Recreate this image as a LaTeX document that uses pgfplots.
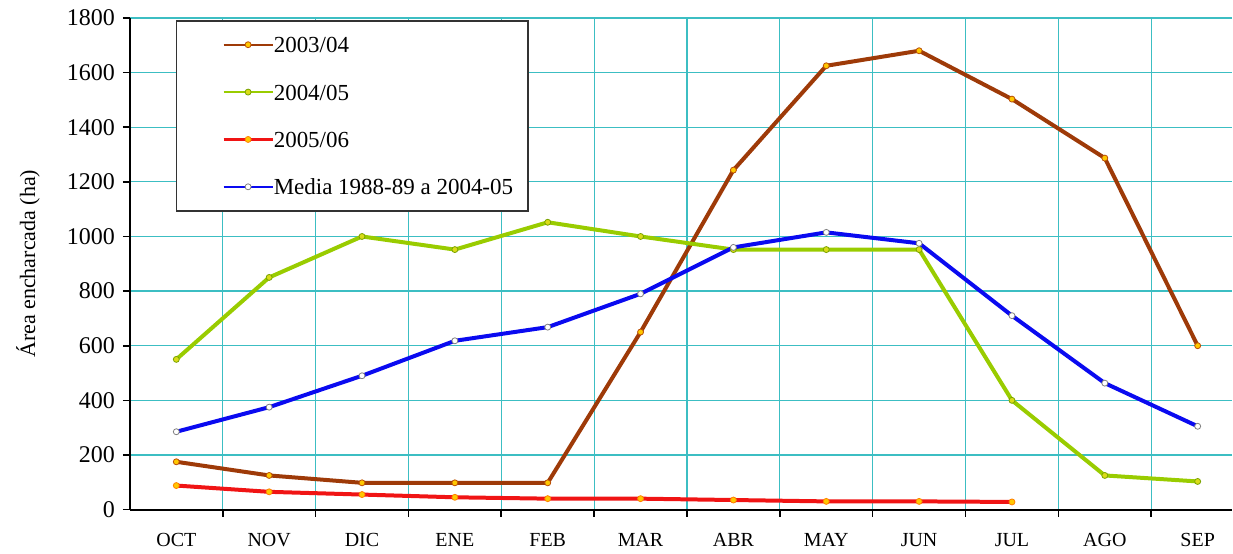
\documentclass[border=0pt]{standalone}
\usepackage{fontspec}
\setmainfont{Liberation Serif}
\usepackage{pgfplots}
\pgfplotsset{compat=1.18}
\definecolor{cbrown}{RGB}{158,58,8}
\definecolor{cgreen}{RGB}{153,204,0}
\definecolor{cred}{RGB}{240,20,20}
\definecolor{cblue}{RGB}{10,10,240}
\definecolor{cgrid}{RGB}{60,190,195}
\definecolor{mkorange}{RGB}{255,200,0}
\begin{document}
\begin{tikzpicture}
\begin{axis}[
  name=ax,
  scale only axis, width=551.5pt, height=246pt,
  xmin=-0.5, xmax=11.37, ymin=0, ymax=1800,
  axis x line*=bottom, axis y line*=left,
  axis line style={-, line width=1pt, black},
  xtick={0,...,11},
  xticklabels={OCT,NOV,DIC,ENE,FEB,MAR,ABR,MAY,JUN,JUL,AGO,SEP},
  major x tick style={draw=none},
  minor xtick={0.5,1.5,...,10.5},
  minor x tick style={black, line width=0.8pt},
  xminorgrids=true,
  minor x grid style={cgrid, line width=0.6pt},
  ytick={0,200,...,1800},
  ymajorgrids=true,
  major y grid style={cgrid, line width=0.6pt},
  ytick style={black, line width=0.8pt},
  tick align=outside,
  major tick length=3.5pt, minor tick length=3.5pt,
  xticklabel style={yshift=-5pt, font=\fontsize{10}{12}\selectfont},
  yticklabel style={font=\fontsize{12}{14}\selectfont, xshift=-0.5pt},
  /pgf/number format/assume math mode=true,
  /pgf/number format/1000 sep={},
  ylabel={Área encharcada (ha)},
  every axis y label/.style={at={(rel axis cs:0,0.5)}, xshift=-51pt, rotate=90, anchor=center, font=\fontsize{11}{13}\selectfont},
  legend style={at={(rel axis cs:0.0417,0.996)}, anchor=north west,
    draw=black!80, line width=0.8pt, inner xsep=7.5pt, inner ysep=8pt,
    row sep=15.7pt, font=\fontsize{11.5}{13}\selectfont,
    nodes={inner sep=0pt, text height=8pt, text depth=0pt}},
  legend cell align=left,
  legend image code/.code={\path[draw=none] (-16pt,0) -- (0pt,0);
    \draw[line width=1.2pt, mark repeat=2,mark phase=2] plot coordinates {(0pt,0pt)(12.25pt,0pt)(24.5pt,0pt)};},
  every axis plot/.append style={line width=2pt},
]
\addplot[cbrown, mark=*, mark size=1.5pt, mark options={fill=mkorange, draw=cbrown!70!orange, line width=0.4pt}]
  coordinates {(0,175)(1,125)(2,98)(3,98)(4,98)(5,650)(6,1243)(7,1625)(8,1680)(9,1503)(10,1287)(11,600)};
\addlegendentry{2003/04}
\addplot[cgreen, mark=*, mark size=1.5pt, mark options={fill=yellow!60!cgreen, draw=cgreen!80!black, line width=0.4pt}]
  coordinates {(0,550)(1,850)(2,1000)(3,952)(4,1052)(5,1000)(6,952)(7,952)(8,952)(9,400)(10,125)(11,103)};
\addlegendentry{2004/05}
\addplot[cred, mark=*, mark size=1.5pt, mark options={fill=mkorange, draw=orange, line width=0.4pt}]
  coordinates {(0,88)(1,65)(2,55)(3,45)(4,40)(5,40)(6,35)(7,30)(8,30)(9,28)};
\addlegendentry{2005/06}
\addplot[cblue, mark=*, mark size=1.5pt, mark options={fill=white, draw=gray, line width=0.4pt}]
  coordinates {(0,285)(1,375)(2,490)(3,618)(4,668)(5,790)(6,960)(7,1015)(8,975)(9,710)(10,463)(11,305)};
\addlegendentry{Media 1988-89 a 2004-05}
\end{axis}
\path ([xshift=-65pt,yshift=-20.5pt]ax.south west) rectangle ([yshift=9pt]ax.north east);
\end{tikzpicture}
\end{document}
